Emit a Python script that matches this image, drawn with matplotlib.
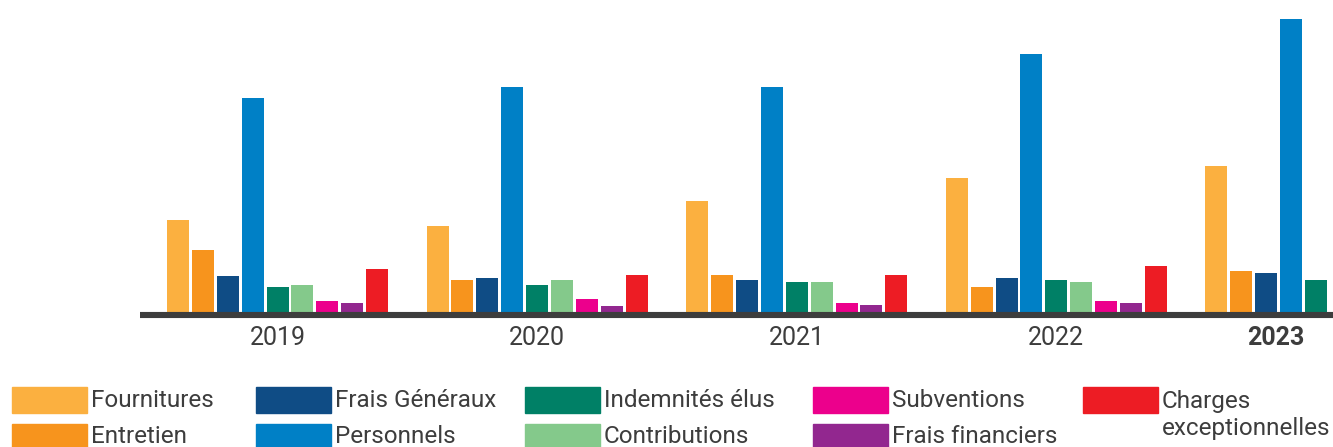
import numpy as np
import matplotlib
matplotlib.use("Agg")
import matplotlib.pyplot as plt
from matplotlib.patches import Rectangle

# data (arbitrary units, pixel heights)
years = ["2019", "2020", "2021", "2022", "2023"]
series = ["Fournitures", "Entretien", "Frais Généraux", "Personnels",
          "Indemnités élus", "Contributions", "Subventions",
          "Frais financiers", "Charges\nexceptionnelles"]
fournitures = [92, 86, 111, 134, 146]
entretien = [62, 32, 37, 25, 41]
frais_generaux = [36, 34, 32, 34, 39]
personnels = [214, 225, 225, 258, 293]
indemnites = [25, 27, 30, 32, 32]
contributions = [27, 32, 30, 30, 31]
subventions = [11, 13, 9, 11, 11]
frais_financiers = [9, 6, 7, 9, 9]
charges_exc = [43, 37, 37, 46, 44]
colors = ["#FBB040", "#F7941D", "#0F4C85", "#0080C6", "#008066",
          "#84C98B", "#EC008C", "#92278F", "#ED1C24"]

values = [fournitures, entretien, frais_generaux, personnels, indemnites,
          contributions, subventions, frais_financiers, charges_exc]

plt.rcParams["font.family"] = ["Roboto", "DejaVu Sans"]
txt_color = "#3d3d3d"

W, H = 1333, 447
fig = plt.figure(figsize=(W / 100, H / 100), dpi=100)
# axes stop just before the clipped 2023 bars
ax = fig.add_axes([140 / W, (H - 318) / H, (1330 - 140) / W, 318 / H])

gap = 259.6
x = np.arange(len(years))
step = 24.9 / gap
width = 22 / gap
for i, vals in enumerate(values):
    ax.bar(x + (i - 4) * step, vals, width=width, color=colors[i], zorder=2)

ax.set_xlim((140 - 277.5) / gap, (1330 - 277.5) / gap)
ax.set_ylim(-6, 312)
ax.axhline(-3, xmin=0, xmax=1.01, color="#3d3d3d", lw=4.4, zorder=3,
           clip_on=False, solid_capstyle="butt")
ax.axis("off")

for i, yr in enumerate(years):
    if yr == "2023":
        ax.text(x[i] - 0.155, -26, yr, ha="center", va="center", fontsize=18,
                fontweight="bold", color=txt_color)
    else:
        ax.text(x[i], -26, yr, ha="center", va="center", fontsize=18,
                color=txt_color)

# legend drawn by hand, column-major, 2 rows
col_x = [12, 256, 525, 813, 1083]
row_y = [387, 424]
base_y = [407, 443]
for i, name in enumerate(series):
    c, r = divmod(i, 2)
    px, py = col_x[c], row_y[r]
    fig.patches.append(Rectangle((px / W, 1 - (py + 26) / H), 75 / W, 26 / H,
                                 transform=fig.transFigure, color=colors[i]))
    lines = name.split("\n")
    for k, line in enumerate(lines):
        if len(lines) > 1:
            by = 408 + 27 * k
        else:
            by = base_y[r]
        fig.text((px + 79) / W, 1 - by / H, line, ha="left", va="baseline",
                 fontsize=17.5, color=txt_color)

fig.savefig("out.png", dpi=100)
